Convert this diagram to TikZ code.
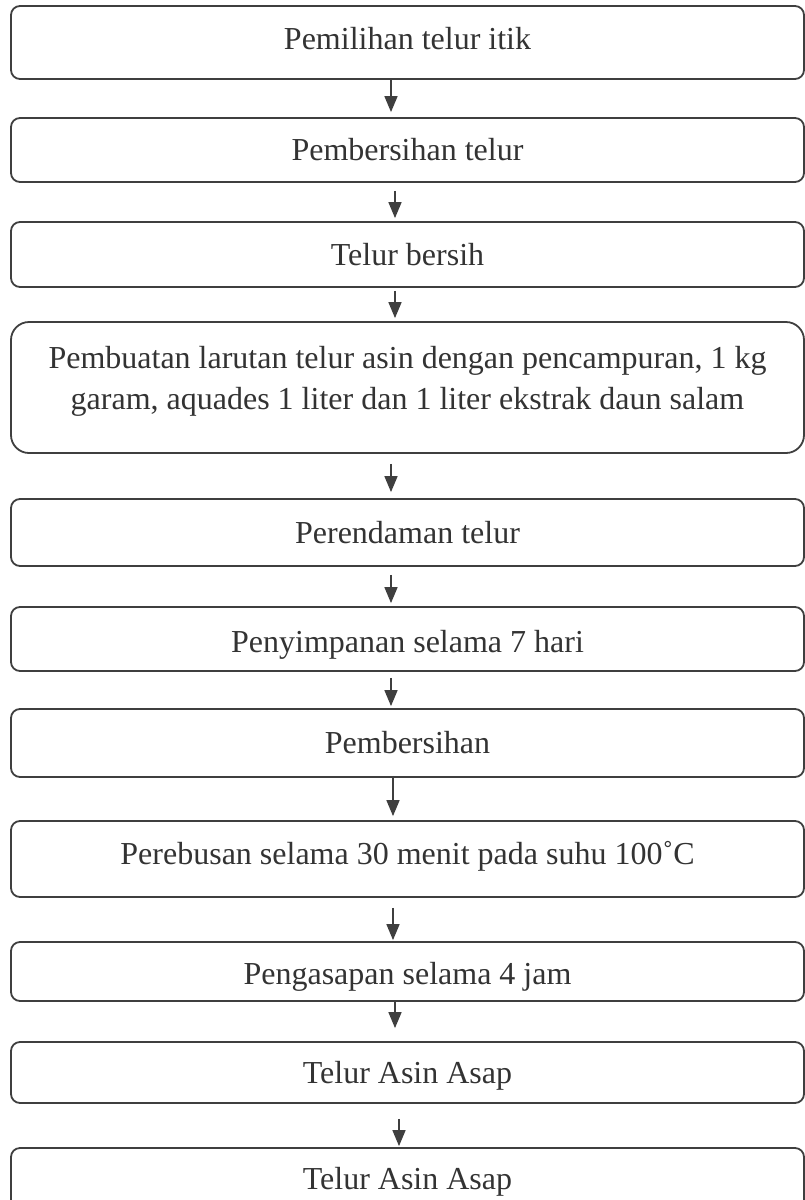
\documentclass[tikz,border=0pt]{standalone}
\usepackage{fontspec}
\setmainfont{Liberation Serif}
\usetikzlibrary{arrows.meta}
\definecolor{boxgray}{HTML}{3F3F3F}
\definecolor{txtgray}{HTML}{333333}
\newcommand{\stepfont}{\fontsize{32}{41}\selectfont}
\tikzset{>={Triangle[length=16pt,width=13pt]}}
\tikzset{stepbox/.style={draw=boxgray, line width=1.8pt, rounded corners=9pt, minimum width=793pt, inner sep=0pt, text=txtgray, font=\stepfont, text height=21pt, text depth=0pt}}
\tikzset{flow/.style={->, draw=boxgray, line width=1.6pt}}

\begin{document}
\begin{tikzpicture}[x=1pt,y=1pt]
\useasboundingbox (0,0) rectangle (805,-1200);

\node[stepbox, minimum height=73pt, text depth=8pt] (pilih) at (407.5,-42.5) {Pemilihan telur itik};
\node[stepbox, minimum height=64pt] (bersih) at (407.5,-150) {Pembersihan telur};
\node[stepbox, minimum height=65pt] (telur) at (407.5,-254.5) {Telur bersih};
\node[stepbox, minimum height=131pt, rounded corners=18pt, align=center, text height=61pt, text depth=18pt] (larutan) at (407.5,-387.5)
  {Pembuatan larutan telur asin dengan pencampuran, 1 kg\\garam, aquades 1 liter dan 1 liter ekstrak daun salam};
\node[stepbox, minimum height=67pt] (rendam) at (407.5,-532.5) {Perendaman telur};
\node[stepbox, minimum height=64pt, text height=26pt] (simpan) at (407.5,-639) {Penyimpanan selama 7 hari};
\node[stepbox, minimum height=68pt] (cuci) at (407.5,-743) {Pembersihan};
\node[stepbox, minimum height=76pt, text depth=10pt] (rebus) at (407.5,-859) {Perebusan selama 30 menit pada suhu 100˚C};
\node[stepbox, minimum height=59pt, text height=26pt] (asap) at (407.5,-971.5) {Pengasapan selama 4 jam};
\node[stepbox, minimum height=61pt] (hasil) at (407.5,-1072.5) {Telur Asin Asap};
\node[stepbox, minimum height=62pt] (akhir) at (407.5,-1179) {Telur Asin Asap};

\draw[flow] ([xshift=-16.5pt]pilih.south) -- ([xshift=-16.5pt,yshift=5pt]bersih.north);
\draw[flow] ([xshift=-12.5pt,yshift=-8pt]bersih.south) -- ([xshift=-12.5pt,yshift=3pt]telur.north);
\draw[flow] ([xshift=-12.5pt,yshift=-3pt]telur.south) -- ([xshift=-12.5pt,yshift=3pt]larutan.north);
\draw[flow] ([xshift=-16.5pt,yshift=-10pt]larutan.south) -- ([xshift=-16.5pt,yshift=6pt]rendam.north);
\draw[flow] ([xshift=-16.5pt,yshift=-8pt]rendam.south) -- ([xshift=-16.5pt,yshift=3pt]simpan.north);
\draw[flow] ([xshift=-16.5pt,yshift=-6pt]simpan.south) -- ([xshift=-16.5pt,yshift=2pt]cuci.north);
\draw[flow] ([xshift=-14.5pt,yshift=2pt]cuci.south) -- ([xshift=-14.5pt,yshift=4pt]rebus.north);
\draw[flow] ([xshift=-14.5pt,yshift=-10pt]rebus.south) -- ([xshift=-14.5pt,yshift=1pt]asap.north);
\draw[flow] ([xshift=-12.5pt]asap.south) -- ([xshift=-12.5pt,yshift=13pt]hasil.north);
\draw[flow] ([xshift=-8.5pt,yshift=-15pt]hasil.south) -- ([xshift=-8.5pt,yshift=1pt]akhir.north);
\end{tikzpicture}
\end{document}
